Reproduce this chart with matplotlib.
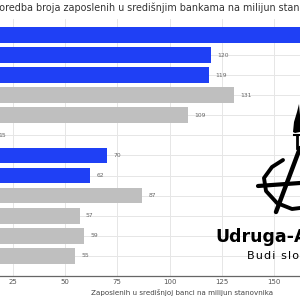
import matplotlib
matplotlib.use('Agg')
import matplotlib.pyplot as plt

# rows from top to bottom (country names sit off the visible crop)
categories = ['Hrvatska', 'Zemlja B', 'Zemlja C', 'Zemlja D', 'Zemlja E', 'Zemlja F',
              'Zemlja G', 'Zemlja H', 'Zemlja I', 'Zemlja J', 'Zemlja K', 'Zemlja L']
values = [180, 120, 119, 131, 109, 15, 70, 62, 87, 57, 59, 55]
highlight = [True, True, True, False, False, False, True, True, False, False, False, False]
xticks = [0, 25, 50, 75, 100, 125, 150, 175, 200]

title = 'Usporedba broja zaposlenih u središnjim bankama na milijun stanovnika'
xlabel = 'Zaposlenih u središnjoj banci na milijun stanovnika'

blue = '#1f40f5'
grey = '#bfbfbf'

fig = plt.figure(figsize=(3, 3), dpi=100)
ax = fig.add_axes([-0.132, 0.08, 1.478, 0.857])

y = list(range(len(values)))
colors = [blue if h else grey for h in highlight]
ax.barh(y, values, height=0.78, color=colors, zorder=2)

for yi, v in zip(y, values):
    ax.text(v + 3, yi, str(v), va='center', ha='left', fontsize=4.3, color='#666666')

ax.set_xlim(0, 212)
ax.set_ylim(len(values), -0.8)
ax.set_yticks(y)
ax.set_yticklabels(categories, fontsize=5)
ax.set_xticks(xticks)
ax.tick_params(axis='both', length=0, labelsize=5, colors='#555555', pad=1.8)
ax.grid(True, color='#e6e6e6', linewidth=0.7, zorder=0)
ax.set_axisbelow(True)
for s in ['top', 'right', 'left']:
    ax.spines[s].set_visible(False)
ax.spines['bottom'].set_color('#666666')
ax.spines['bottom'].set_linewidth(0.9)
ax.set_xlabel(xlabel, fontsize=5.1, color='#444444', labelpad=3)

fig.text(156 / 300, 1 - 8 / 300, title, ha='center', va='center', fontsize=6.9, color='#333333')

# logo overlay in pixel coordinates
lg = fig.add_axes([0, 0, 1, 1])
lg.set_xlim(0, 300)
lg.set_ylim(300, 0)
lg.axis('off')
lg.patch.set_alpha(0)
lg.plot([276, 300], [212, 148], color='black', lw=3.2, solid_capstyle='round')
lg.plot([258, 300], [186, 183], color='black', lw=3.0, solid_capstyle='round')
lg.plot([283, 272, 264, 266, 277, 292, 300], [160, 167, 178, 191, 203, 209, 208],
        color='black', lw=2.8, solid_capstyle='round')
lg.plot([297, 297], [148, 135], color='black', lw=2.0)
lg.plot([294, 300], [135, 135], color='black', lw=1.5)
lg.fill([293, 294, 297, 299, 300, 300, 295], [132, 122, 112, 104, 115, 132, 133], color='black', lw=0)
lg.text(215, 242, 'Udruga-Anarhisti', fontsize=12.5, fontweight='bold', color='black',
        ha='left', va='baseline', family='DejaVu Sans')
lg.text(247, 259, '\u200a'.join('Budi slobodan'), fontsize=8.0, color='black', ha='left',
        va='baseline', family='DejaVu Sans')

fig.savefig('out.png', dpi=100)
